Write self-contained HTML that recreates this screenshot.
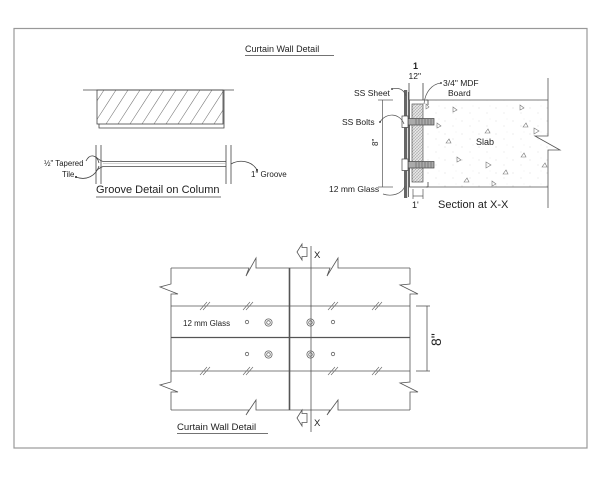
<!DOCTYPE html>
<html><head><meta charset="utf-8"><style>
html,body{margin:0;padding:0;background:#fff;}
svg{display:block;}
text{font-family:"Liberation Sans",Arial,sans-serif;fill:#222;}
</style></head><body>
<svg width="600" height="480" viewBox="0 0 600 480" xmlns="http://www.w3.org/2000/svg">
<defs>
<pattern id="hatch" patternUnits="userSpaceOnUse" width="12" height="34" x="97" y="90">
<line x1="-3" y1="34" x2="19" y2="0" stroke="#777" stroke-width="0.55"/>
<line x1="-15" y1="34" x2="7" y2="0" stroke="#777" stroke-width="0.55"/>
<line x1="9" y1="34" x2="31" y2="0" stroke="#777" stroke-width="0.55"/>
</pattern>
<pattern id="mdf" patternUnits="userSpaceOnUse" width="3" height="3">
<rect width="3" height="3" fill="#e4e4e4"/>
<line x1="0" y1="3" x2="3" y2="0" stroke="#999" stroke-width="0.5"/>
<line x1="0" y1="0" x2="3" y2="3" stroke="#bbb" stroke-width="0.4"/>
</pattern>
<pattern id="speck" patternUnits="userSpaceOnUse" width="17" height="13">
<circle cx="3" cy="4" r="0.5" fill="#ccc"/>
<circle cx="11" cy="9" r="0.5" fill="#d5d5d5"/>
<circle cx="14" cy="2" r="0.4" fill="#ddd"/>
</pattern>
</defs>

<!-- border -->
<rect x="14" y="28.5" width="573" height="419.5" fill="none" stroke="#999" stroke-width="1.2"/>

<!-- title -->
<text x="245" y="52" font-size="9">Curtain Wall Detail</text>
<line x1="245" y1="55.5" x2="334" y2="55.5" stroke="#444" stroke-width="0.7"/>

<!-- GROOVE DETAIL -->
<g stroke="#444" stroke-width="0.8" fill="none">
<line x1="83" y1="90" x2="234" y2="90"/>
<rect x="97" y="90" width="126" height="34" fill="url(#hatch)"/>
<polyline points="99,124 99,128 224,128 224,90"/>
<line x1="96" y1="145" x2="96" y2="184"/>
<line x1="101" y1="145" x2="101" y2="184"/>
<line x1="226" y1="145" x2="226" y2="184"/>
<line x1="231" y1="145" x2="231" y2="184"/>
<line x1="103" y1="161.5" x2="226" y2="161.5"/>
<line x1="103" y1="166.5" x2="226" y2="166.5"/>
<line x1="103" y1="163.5" x2="226" y2="163.5" stroke="#aaa" stroke-width="0.5"/>
<path d="M96,157 Q99,160 103,161.5 M96,171 Q99,168 103,166.5"/>
<path d="M86,161 C90,153 97,155 99,163"/>
<path d="M76,177 C86,181 96,176 99,166"/>
<path d="M231,164 C240,159 252,161 257,170"/>
</g>
<circle cx="76" cy="177" r="1" fill="#222"/>
<circle cx="257" cy="170" r="1" fill="#222"/>
<text x="44" y="166" font-size="7.8">½" Tapered</text>
<text x="62" y="177" font-size="7.8">Tile</text>
<text x="251" y="177" font-size="8">1" Groove</text>
<text x="96" y="193" font-size="11">Groove Detail on Column</text>
<line x1="96" y1="197" x2="221" y2="197" stroke="#444" stroke-width="0.7"/>

<!-- SECTION X-X -->
<rect x="427" y="100" width="121" height="87" fill="url(#speck)"/>
<g stroke="#555" stroke-width="0.8" fill="none">
<path d="M426,100 H548 M426,187 H548"/>
<path d="M548,78 V136 L535,136 L560,150 L548,150 V208"/>
</g>
<g fill="none" stroke="#777" stroke-width="0.6">
<path d="M453,107 l4,3 l-4,2 z"/>
<path d="M437,123 l4,3 l-4,2 z"/>
<path d="M520,105 l4,3 l-4,2 z"/>
<path d="M523,127 l3,-4 l2,4 z"/>
<path d="M534,128 l5,3 l-5,3 z"/>
<path d="M485,133 l3,-4 l2,4 z"/>
<path d="M446,143 l3,-4 l2,4 z"/>
<path d="M457,157 l4,3 l-4,2 z"/>
<path d="M486,162 l5,3 l-5,3 z"/>
<path d="M503,174 l3,-4 l2,4 z"/>
<path d="M521,157 l3,-4 l2,4 z"/>
<path d="M542,167 l3,-4 l2,4 z"/>
<path d="M464,182 l3,-4 l2,4 z"/>
<path d="M492,181 l4,3 l-4,2 z"/>
<path d="M426,104 l3,3 l-3,2 z"/>
</g>
<rect x="404" y="90" width="3.2" height="108" fill="#666"/>
<g stroke="#444" stroke-width="0.8" fill="none">
<line x1="408.5" y1="92" x2="408.5" y2="197"/>
<line x1="409" y1="83" x2="409" y2="100"/>
<line x1="423" y1="83" x2="423" y2="100"/>
<path d="M428,100 H409.5 V187 H428 M428,100 V105 M428,187 V182"/>
</g>
<rect x="412" y="104" width="11" height="78" fill="url(#mdf)" stroke="#555" stroke-width="0.7"/>
<g stroke="#444" stroke-width="0.7">
<rect x="408" y="118.5" width="26" height="6.5" fill="#aaa"/>
<path d="M416,118.5 v6.5 M419,118.5 v6.5 M422,118.5 v6.5 M425,118.5 v6.5 M428,118.5 v6.5 M431,118.5 v6.5" stroke="#666"/>
<rect x="402" y="116" width="6" height="11.5" fill="#fff"/>
<rect x="408" y="161.5" width="26" height="6.5" fill="#aaa"/>
<path d="M416,161.5 v6.5 M419,161.5 v6.5 M422,161.5 v6.5 M425,161.5 v6.5 M428,161.5 v6.5 M431,161.5 v6.5" stroke="#666"/>
<rect x="402" y="159" width="6" height="11.5" fill="#fff"/>
</g>
<g stroke="#555" stroke-width="0.7" fill="none">
<line x1="382.5" y1="100" x2="382.5" y2="187"/>
<line x1="378" y1="100" x2="393" y2="100"/>
<line x1="378" y1="187" x2="393" y2="187"/>
<line x1="413" y1="189" x2="413" y2="199"/>
<line x1="423" y1="189" x2="423" y2="199"/>
<line x1="413" y1="196" x2="423" y2="196"/>
<path d="M392,89 C400,87 404,90 406,96"/>
<path d="M380,122 C386,112 400,113 404,124"/>
<path d="M383,194 C392,197 402,194 405,186"/>
<path d="M441,83 C432,84 425,92 424,104"/>
</g>
<circle cx="392" cy="89" r="0.9" fill="#222"/>
<circle cx="380" cy="122" r="0.9" fill="#222"/>
<circle cx="441" cy="83" r="0.9" fill="#222"/>
<text x="413" y="69" font-size="9" font-weight="bold">1</text>
<text x="408.5" y="79" font-size="8.5">12"</text>
<text x="354" y="96" font-size="8.5">SS Sheet</text>
<text x="342" y="125" font-size="8.5">SS Bolts</text>
<text x="329" y="192" font-size="8.5">12 mm Glass</text>
<text x="443" y="86" font-size="8.5">3/4" MDF</text>
<text x="448" y="96" font-size="8.5">Board</text>
<text x="476" y="145" font-size="9">Slab</text>
<text x="412" y="208" font-size="9">1'</text>
<text x="438" y="208" font-size="11">Section at  X-X</text>
<text transform="translate(378,146) rotate(-90)" font-size="8">8"</text>

<!-- PLAN -->
<g stroke="#555" stroke-width="0.8" fill="none">
<path d="M171,268 H249 L246,276 L256,258 V268 H330 L327,276 L338,258 V268 H410"/>
<path d="M171,410 H249 L246,415 L256,400 V410 H330 L327,415 L338,400 V410 H410"/>
<path d="M171,268 V284 L160,287 L178,294 H171 V382 L160,385 L178,392 H171 V410"/>
<path d="M410,268 V284 L400,285 L418,294 H410 V382 L400,383 L418,392 H410 V410"/>
<line x1="171" y1="306" x2="410" y2="306"/>
<line x1="171" y1="371" x2="410" y2="371"/>
<line x1="171" y1="337.5" x2="410" y2="337.5" stroke-width="1.3"/>
<line x1="311" y1="246" x2="311" y2="432"/>
<line x1="427" y1="306" x2="427" y2="371"/>
<line x1="416" y1="306" x2="430" y2="306"/>
<line x1="416" y1="371" x2="430" y2="371"/>
</g>
<line x1="289.5" y1="268" x2="289.5" y2="410" stroke="#555" stroke-width="1.6"/>
<g stroke="#666" stroke-width="0.6">
<path d="M200,310 l7,-8 M203,310 l7,-8 M243,310 l7,-8 M246,310 l7,-8 M328,310 l7,-8 M331,310 l7,-8 M372,310 l7,-8 M375,310 l7,-8"/>
<path d="M200,375 l7,-8 M203,375 l7,-8 M243,375 l7,-8 M246,375 l7,-8 M328,375 l7,-8 M331,375 l7,-8 M372,375 l7,-8 M375,375 l7,-8"/>
</g>
<g fill="none" stroke="#666" stroke-width="0.8">
<circle cx="268.5" cy="322.5" r="3.6"/><circle cx="268.5" cy="322.5" r="1.8"/>
<circle cx="310.5" cy="322.5" r="3.6"/><circle cx="310.5" cy="322.5" r="1.8"/>
<circle cx="268.5" cy="354.5" r="3.6"/><circle cx="268.5" cy="354.5" r="1.8"/>
<circle cx="310.5" cy="354.5" r="3.6"/><circle cx="310.5" cy="354.5" r="1.8"/>
<circle cx="247" cy="322" r="1.7"/>
<circle cx="333" cy="322" r="1.7"/>
<circle cx="247" cy="354" r="1.7"/>
<circle cx="333" cy="354" r="1.7"/>
</g>
<g fill="#fff" stroke="#555" stroke-width="0.8">
<polygon points="297,252 302,244 302,247.5 307,247.5 307,256.5 302,256.5 302,260"/>
<polygon points="297,418 302,410 302,413.5 307,413.5 307,422.5 302,422.5 302,426"/>
</g>
<text x="314" y="258" font-size="9.5">X</text>
<text x="314" y="426" font-size="9.5">X</text>
<text x="183" y="326" font-size="8">12 mm Glass</text>
<text transform="translate(441,346) rotate(-90)" font-size="14">8"</text>
<text x="177" y="430" font-size="9.6">Curtain Wall Detail</text>
<line x1="177" y1="433.5" x2="268" y2="433.5" stroke="#444" stroke-width="0.7"/>
</svg>
</body></html>
